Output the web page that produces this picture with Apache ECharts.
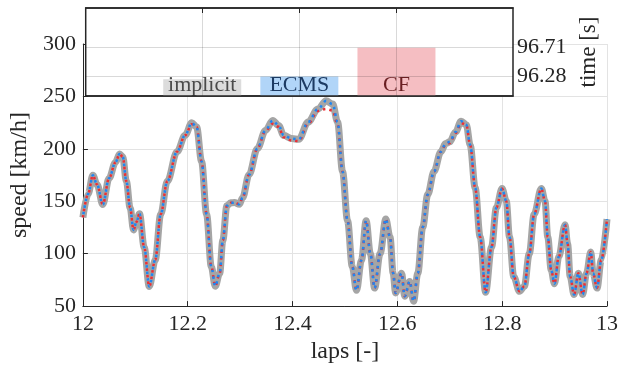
<!DOCTYPE html>
<html>
<head>
<meta charset="utf-8">
<script src="https://cdn.jsdelivr.net/npm/echarts@6/dist/echarts.min.js"></script>
<style>
  html, body { margin: 0; padding: 0; background: #fff; }
  #chart { width: 621px; height: 369px; }
</style>
</head>
<body>
<div id="chart"></div>
<script>
// laps axis positions
var laps = [12.000, 12.010, 12.019, 12.027, 12.038, 12.050, 12.062, 12.070, 12.076, 12.083,
  12.090, 12.0966, 12.102, 12.108, 12.117, 12.1266, 12.138, 12.1485, 12.161, 12.1797,
  12.195, 12.2078, 12.217, 12.2265, 12.236, 12.245, 12.2525, 12.261, 12.267, 12.2747,
  12.282, 12.289, 12.2985, 12.3047, 12.317, 12.333, 12.3484, 12.3622, 12.3735, 12.383,
  12.3985, 12.412, 12.4297, 12.4485, 12.464, 12.4766, 12.486, 12.4954, 12.505, 12.514,
  12.522, 12.5316, 12.5404, 12.5485, 12.5566, 12.567, 12.578, 12.586, 12.592, 12.5966,
  12.608, 12.614, 12.6235, 12.631, 12.639, 12.6484, 12.658, 12.670, 12.683, 12.692,
  12.700, 12.711, 12.7216, 12.7316, 12.739, 12.7485, 12.758, 12.7684, 12.7797, 12.789,
  12.7997, 12.8078, 12.814, 12.822, 12.833, 12.8423, 12.8517, 12.861, 12.8747, 12.8817,
  12.887, 12.8935, 12.8997, 12.908, 12.920, 12.9248, 12.9297, 12.9372, 12.9454, 12.9535,
  12.961, 12.969, 12.9735, 12.981, 12.989, 13.000];

// speed [km/h] per strategy
var speedImplicit = [134.6, 157, 174.7, 166, 147, 172, 187, 195, 192.5, 169,
  144, 122.7, 130, 138, 106, 68.8, 93.9, 137.7, 169, 197.3,
  212.9, 224.8, 220.8, 187.9, 137.7, 87.6, 69, 81.3, 112.7, 145.6,
  148.5, 148.7, 147.1, 153.4, 175.3, 200.4, 217.6, 227, 222.3, 212.9,
  209.8, 209.1, 225.5, 238, 245.8, 242.7, 225.5, 178.5, 131.5, 87.6,
  65, 93.9, 131.5, 100, 67.2, 100, 133, 115.8, 81.3, 62.5,
  81.3, 59.4, 73.5, 54.7, 81.3, 125.2, 156.5, 178.5, 197.3, 205,
  206.7, 216, 226.4, 222.9, 203.5, 162.8, 115.8, 63.2, 106.4, 144,
  162.1, 150.3, 115.8, 78.2, 64.1, 68.8, 100, 137.7, 162.1, 150.3,
  115.8, 84.5, 71.3, 97, 127.7, 109.5, 78.2, 61, 81.3, 61,
  81.3, 101.7, 81.3, 67.2, 93.9, 133];

var speedECMS = speedImplicit.slice();

var speedCF = [134.6, 157, 174.7, 166, 147, 172, 187, 195, 192.5, 169,
  144, 122.7, 130, 138, 106, 68.8, 93.9, 137.7, 169, 197.3,
  212.9, 223.5, 220.8, 187.9, 137.7, 87.6, 69, 81.3, 112.7, 145.6,
  148.5, 148.7, 147.1, 153.4, 175.3, 200.4, 217, 224, 221, 211,
  208, 207.5, 224, 236, 238, 236.5, 223, 178.5, 131.5, 87.6,
  65, 93.9, 131.5, 100, 67.2, 100, 133, 115.8, 81.3, 62.5,
  81.3, 59.4, 73.5, 54.7, 81.3, 125.2, 156.5, 178.5, 197.3, 204,
  205.5, 215, 224.5, 222.9, 203.5, 162.8, 115.8, 63.2, 106.4, 144,
  162.1, 150.3, 115.8, 78.2, 64.1, 68.8, 100, 137.7, 162.1, 150.3,
  115.8, 84.5, 71.3, 97, 127.7, 109.5, 78.2, 61, 81.3, 61,
  81.3, 101.7, 81.3, 67.2, 93.9, 133];

// inset: lap time [s]
var strategies = ['implicit', 'ECMS', 'CF'];
var lapTime = [96.24, 96.28, 96.71];
var timeTicks = [96.28, 96.71];
var slotTicks = [1, 2, 3];

var font = 'Liberation Serif';
var ink = '#262626';
var gridGray = '#e3e3e3';
var insetGrid = 'rgba(0,0,0,0.15)';

function pairs(xs, ys) {
  return xs.map(function (x, i) { return [x, ys[i]]; });
}

var barColors = ['#dcdcdc', '#b1d5f8', '#f5bec2'];
var barText = ['#4a4a4a', '#1d3b63', '#6a1f22'];

var insetLines = slotTicks.map(function (v) { return { xAxis: v }; })
  .concat(timeTicks.map(function (v) { return { yAxis: v }; }))
  .map(function (d) { d.lineStyle = { color: insetGrid, width: 1, type: 'solid' }; return d; });

var chart = echarts.init(document.getElementById('chart'), null, { renderer: 'canvas' });

var option = {
  animation: false,
  backgroundColor: '#fff',
  textStyle: { fontFamily: font },
  grid: [
    { left: 77.5, right: 10, top: 44, bottom: 59 },
    { left: 85.7, right: 108, top: 8, bottom: 273,
      show: true, z: 3, backgroundColor: '#fff', borderColor: ink, borderWidth: 1.5 }
  ],
  xAxis: [{
    gridIndex: 0,
    type: 'value', min: 12, max: 13, interval: 0.2,
    name: 'laps [-]', nameLocation: 'middle', nameGap: 31,
    nameTextStyle: { fontFamily: font, fontSize: 24, color: ink },
    axisLine: { lineStyle: { color: ink, width: 1 } },
    axisTick: { inside: true, length: 5, lineStyle: { color: ink } },
    axisLabel: { fontFamily: font, fontSize: 22, color: ink, margin: 7,
      formatter: function (v) { return String(+v.toFixed(1)); } },
    splitLine: { show: true, lineStyle: { color: gridGray, width: 1 } }
  }, {
    gridIndex: 1, z: 9,
    type: 'value', min: -0.2, max: 4.2, position: 'top',
    axisLine: { show: true, lineStyle: { color: ink, width: 1.5 } },
    axisTick: { show: true, inside: true, length: 5, customValues: slotTicks, lineStyle: { color: ink } },
    axisLabel: { show: false },
    splitLine: { show: false }
  }, {
    gridIndex: 1, z: 9,
    type: 'value', min: -0.2, max: 4.2, position: 'bottom',
    axisLine: { show: true, lineStyle: { color: ink, width: 1.5 } },
    axisTick: { show: false },
    axisLabel: { show: false },
    splitLine: { show: false }
  }],
  yAxis: [{
    gridIndex: 0,
    type: 'value', min: 50, max: 300, interval: 50,
    name: 'speed [km/h]', nameLocation: 'middle', nameGap: 45,
    nameTextStyle: { fontFamily: font, fontSize: 24, color: ink },
    axisLine: { show: true, lineStyle: { color: ink, width: 1 } },
    axisTick: { show: true, inside: true, length: 5, lineStyle: { color: ink } },
    axisLabel: { fontFamily: font, fontSize: 22, color: ink, margin: 7 },
    splitLine: { show: true, lineStyle: { color: gridGray, width: 1 } }
  }, {
    gridIndex: 1, z: 9,
    type: 'value', min: 95.99, max: 97.3, position: 'right',
    name: 'time [s]', nameLocation: 'middle', nameGap: 54,
    nameTextStyle: { fontFamily: font, fontSize: 23, color: ink },
    axisLine: { show: false },
    axisTick: { show: false },
    axisLabel: { fontFamily: font, fontSize: 22, color: ink, margin: 4, customValues: timeTicks,
      formatter: function (v) { return v.toFixed(2); } },
    splitLine: { show: false }
  }],
  series: [{
    name: 'implicit', type: 'line', xAxisIndex: 0, yAxisIndex: 0,
    data: pairs(laps, speedImplicit),
    smooth: 0.35, smoothMonotone: 'x', showSymbol: false,
    lineStyle: { color: '#a5a5a5', width: 7 }, z: 2
  }, {
    name: 'CF', type: 'line', xAxisIndex: 0, yAxisIndex: 0,
    data: pairs(laps, speedCF),
    smooth: 0.35, smoothMonotone: 'x', showSymbol: false,
    lineStyle: { color: '#ec2f35', width: 2.5, type: [2.5, 4], dashOffset: 0 }, z: 3
  }, {
    name: 'ECMS', type: 'line', xAxisIndex: 0, yAxisIndex: 0,
    data: pairs(laps, speedECMS),
    smooth: 0.35, smoothMonotone: 'x', showSymbol: false,
    lineStyle: { color: '#1f86f2', width: 2.5, type: [2.5, 4], dashOffset: 3.2 }, z: 4
  }, {
    name: 'lap time', type: 'bar', xAxisIndex: 1, yAxisIndex: 1,
    barWidth: 78, clip: true, z: 7,
    data: lapTime.map(function (t, i) {
      return {
        value: [i + 1, t],
        itemStyle: { color: barColors[i] },
        label: { show: true, position: 'insideBottom', distance: 0,
          formatter: strategies[i], color: barText[i], fontFamily: font, fontSize: 22 }
      };
    }),
    markLine: {
      silent: true, symbol: ['none', 'none'], label: { show: false }, z: 8,
      lineStyle: { color: insetGrid, type: 'solid', width: 1 },
      emphasis: { disabled: true },
      data: insetLines
    }
  }]
};

chart.setOption(option);
</script>
</body>
</html>
